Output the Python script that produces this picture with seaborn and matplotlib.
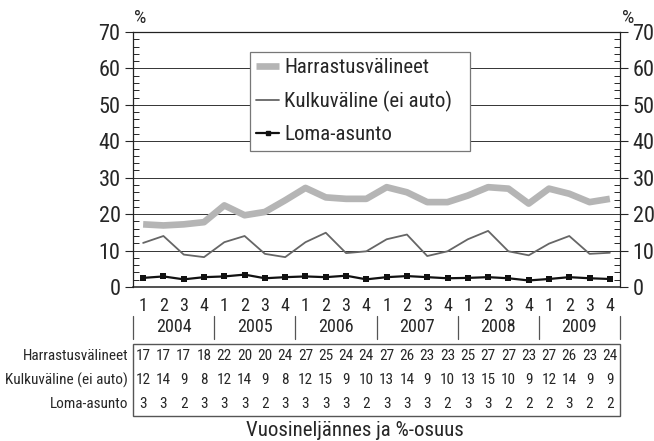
import matplotlib
matplotlib.use("Agg")
import matplotlib.pyplot as plt
import matplotlib.transforms as mtransforms
from matplotlib.lines import Line2D
from matplotlib.patches import Rectangle
import seaborn as sns
import pandas as pd

# --- data ---
years = ["2004", "2005", "2006", "2007", "2008", "2009"]
quarters = ["1", "2", "3", "4"]
series_names = ["Harrastusvälineet", "Kulkuväline (ei auto)", "Loma-asunto"]

harrastus = [17.2, 16.9, 17.2, 17.8, 22.4, 19.7, 20.6, 23.8, 27.2, 24.6, 24.2, 24.2,
             27.4, 26.0, 23.3, 23.3, 25.1, 27.4, 27.0, 22.9, 27.0, 25.6, 23.3, 24.2]
kulkuvaline = [12.1, 14.0, 8.9, 8.2, 12.3, 14.0, 9.1, 8.2, 12.3, 14.9, 9.3, 9.8,
               13.1, 14.4, 8.5, 9.8, 13.1, 15.4, 9.8, 8.7, 11.9, 14.0, 9.1, 9.4]
loma = [2.5, 2.9, 2.1, 2.7, 2.9, 3.4, 2.4, 2.7, 2.9, 2.7, 3.1, 2.1,
        2.7, 3.0, 2.7, 2.4, 2.5, 2.7, 2.4, 1.8, 2.2, 2.7, 2.4, 2.2]

# values printed in the table (rounded)
harrastus_tbl = [17, 17, 17, 18, 22, 20, 20, 24, 27, 25, 24, 24, 27, 26, 23, 23, 25, 27, 27, 23, 27, 26, 23, 24]
kulku_tbl = [12, 14, 9, 8, 12, 14, 9, 8, 12, 15, 9, 10, 13, 14, 9, 10, 13, 15, 10, 9, 12, 14, 9, 9]
loma_tbl = [3, 3, 2, 3, 3, 3, 2, 3, 3, 3, 3, 2, 3, 3, 3, 2, 3, 3, 2, 2, 2, 3, 2, 2]

quarter_labels = [q for _ in years for q in quarters]
x = list(range(len(quarter_labels)))

df = pd.DataFrame({"x": x, "Harrastusvälineet": harrastus,
                   "Kulkuväline (ei auto)": kulkuvaline, "Loma-asunto": loma})

sns.set_style("ticks")
plt.rcParams["font.family"] = ["Roboto Condensed", "Archivo Narrow", "DejaVu Sans"]

W, H = 654, 441
fig = plt.figure(figsize=(W / 100, H / 100), dpi=100)
ax = fig.add_axes([133 / W, 1 - 287 / H, (620 - 133) / W, (287 - 32) / H])

def fy(py):
    return 1 - py / H

# grid lines (behind)
for v in [10, 20, 30, 40, 50, 60]:
    ax.axhline(v, color="#333333", lw=0.7, zorder=0)

sns.lineplot(data=df, x="x", y="Harrastusvälineet", ax=ax, color="#b5b5b5", lw=4.8,
             solid_capstyle="butt", zorder=2)
sns.lineplot(data=df, x="x", y="Kulkuväline (ei auto)", ax=ax, color="#666666", lw=1.3, zorder=3)
sns.lineplot(data=df, x="x", y="Loma-asunto", ax=ax, color="#111111", lw=1.6,
             marker="s", markersize=4.5, markeredgewidth=0, zorder=4)

ax.set_xlim(-0.5, len(x) - 0.5)
ax.set_ylim(0, 70)
ax.set_yticks(range(0, 71, 10))
ax.set_yticks(range(0, 71, 2), minor=True)
ax.set_xticks(x)
ax.set_xticklabels(quarter_labels, fontsize=13)
ax.set_xlabel("")
ax.set_ylabel("")
ax.tick_params(axis="x", length=0, pad=7)
ax.tick_params(axis="y", which="major", direction="out", length=6, width=0.8,
               left=True, right=True, labelleft=True, labelright=True, labelsize=16, pad=3)
ax.tick_params(axis="y", which="minor", direction="in", length=4, width=0.7, left=True, right=True)
for s in ax.spines.values():
    s.set_color("#222222")
    s.set_linewidth(0.9)
ax.spines["bottom"].set_linewidth(1.1)

fig.text(134 / W, fy(18), "%", fontsize=14, ha="left", va="center")
fig.text(622 / W, fy(18), "%", fontsize=14, ha="left", va="center")

# legend
handles = [Line2D([], [], color="#b5b5b5", lw=4.8, solid_capstyle="butt"),
           Line2D([], [], color="#666666", lw=1.3),
           Line2D([], [], color="#111111", lw=1.6, marker="s", markersize=3.5)]
leg = ax.legend(handles, series_names, loc="upper left",
                bbox_to_anchor=(250 / W, fy(148), 220 / W, 96 / H), mode="expand",
                bbox_transform=fig.transFigure, borderaxespad=0, fontsize=15,
                handlelength=1.1, handletextpad=0.25, labelspacing=0.65, borderpad=0.3,
                fancybox=False, framealpha=1)
leg.get_frame().set_edgecolor("#777777")
leg.get_frame().set_linewidth(0.9)
leg.set_zorder(10)

# year labels and separators
tr = mtransforms.blended_transform_factory(ax.transData, fig.transFigure)
for i, yr in enumerate(years):
    ax.text(4 * i + 1.5, fy(327), yr, transform=tr, ha="center", va="center", fontsize=13)
for i in range(len(years) + 1):
    ax.add_line(Line2D([4 * i - 0.5, 4 * i - 0.5], [fy(316), fy(339)], transform=tr,
                       color="#555555", lw=0.9, clip_on=False))

# data table under the chart
ax.add_patch(Rectangle((-0.5, fy(416)), len(x), fy(344) - fy(416), transform=tr,
                       fill=False, edgecolor="#555555", lw=1.0, clip_on=False))
rows = [harrastus_tbl, kulku_tbl, loma_tbl]
row_y = [356, 380, 404]
for name, vals, py in zip(series_names, rows, row_y):
    fig.text(128 / W, fy(py), name, ha="right", va="center", fontsize=11)
    for xi, v in zip(x, vals):
        ax.text(xi, fy(py), str(v), transform=tr, ha="center", va="center", fontsize=11)

fig.text(355 / W, fy(431), "Vuosineljännes ja %-osuus", ha="center", va="center", fontsize=15)

fig.savefig("out.png", dpi=100)
